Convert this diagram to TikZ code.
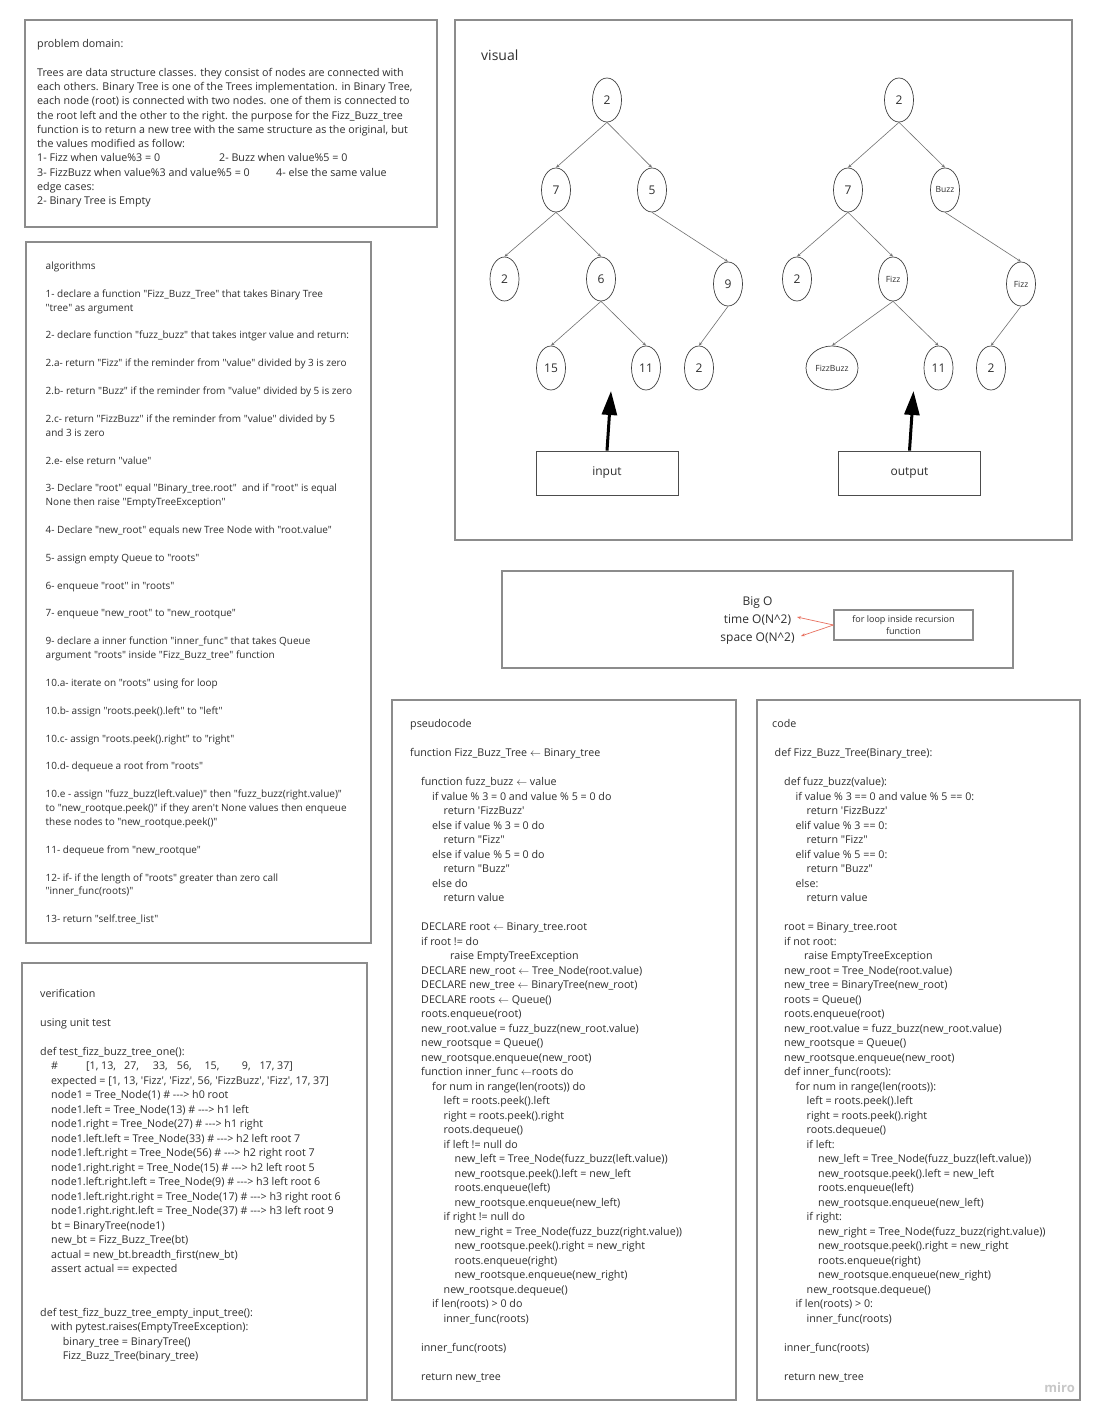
\documentclass[tikz,border=0pt]{standalone}
\usepackage{fontspec}
\setmainfont{Open Sans}[Ligatures=TeXOff]
\usetikzlibrary{arrows.meta,shapes.geometric}
\definecolor{frame}{HTML}{8C8C8C}
\definecolor{txt}{HTML}{2E2E2E}
\definecolor{edgec}{HTML}{707070}
\definecolor{redarrow}{HTML}{E8705F}
\definecolor{mirogray}{HTML}{C8C8C8}
\newcommand\IN[1]{\hspace*{#1pt}}
\newcommand\At[2]{\makebox[0pt][l]{\hspace*{#1pt}#2}}
\tikzset{
  panel/.style={draw=frame, line width=1.2pt},
  body/.style={anchor=north west, inner sep=0pt, align=left, text=txt},
  tnode/.style={ellipse, draw=black!75, line width=0.7pt, minimum width=29pt, minimum height=44pt, inner sep=0pt, text=txt, font=\fontsize{12}{14}\selectfont},
  tsmall/.style={tnode, font=\fontsize{8.5}{10}\selectfont},
  tedge/.style={draw=edgec, line width=0.6pt, -{Stealth[length=3.5pt,width=3pt]}},
  bigarrow/.style={line width=3pt, -{Triangle[length=24pt,width=15pt]}},
  iobox/.style={draw=black!70, line width=0.8pt, minimum width=142pt, minimum height=44pt, text=txt, font=\fontsize{12}{14}\selectfont},
  redarr/.style={draw=redarrow, line width=0.7pt, -{Stealth[length=4pt,width=3pt]}}
}
\begin{document}
\begin{tikzpicture}[x=1pt,y=-1pt]
\fill[white] (0,0) rectangle (1100,1419);
\useasboundingbox (0,0) rectangle (1100,1419);

% frames
\draw[panel] (25,20) rectangle (437,227);
\draw[panel] (26,242) rectangle (371,943);
\draw[panel] (22,963) rectangle (367,1400);
\draw[panel] (455,20) rectangle (1072,540);
\draw[panel] (502,571) rectangle (1013,668);
\draw[panel] (392,700) rectangle (736,1400);
\draw[panel] (757,700) rectangle (1080,1400);

% problem domain
\node[body, font=\fontsize{10.7}{14.3}\selectfont] (prob) at (37,37.3) {\strut problem domain:\\[14.3pt]
Trees are data structure classes. they consist of nodes are connected with\\
each others. Binary Tree is one of the Trees implementation. in Binary Tree,\\
each node (root) is connected with two nodes. one of them is connected to\\
the root left and the other to the right. the purpose for the Fizz\_Buzz\_tree\\
function is to return a new tree with the same structure as the original, but\\
the values modified as follow:\\
\makebox[182pt][l]{1- Fizz when value\%3 = 0}2- Buzz when value\%5 = 0\\
\makebox[239pt][l]{3- FizzBuzz when value\%3 and value\%5 = 0}4- else the same value\\
edge cases:\\
2- Binary Tree is Empty};

% algorithms
\node[body, font=\fontsize{10}{13.9}\selectfont] (algo) at (45.5,259.5) {\strut algorithms\\[13.9pt]
1- declare a function "Fizz\_Buzz\_Tree" that takes Binary Tree\\
"tree" as argument\\[13.9pt]
2- declare function "fuzz\_buzz" that takes intger value and return:\\[13.9pt]
2.a- return "Fizz" if the reminder from "value" divided by 3 is zero\\[13.9pt]
2.b- return "Buzz" if the reminder from "value" divided by 5 is zero\\[13.9pt]
2.c- return "FizzBuzz" if the reminder from "value" divided by 5\\
and 3 is zero\\[13.9pt]
2.e- else return "value"\\[13.9pt]
3- Declare "root" equal "Binary\_tree.root" \ and if "root" is equal\\
None then raise "EmptyTreeException"\\[13.9pt]
4- Declare "new\_root" equals new Tree Node with "root.value"\\[13.9pt]
5- assign empty Queue to "roots"\\[13.9pt]
6- enqueue "root" in "roots"\\[13.9pt]
7- enqueue "new\_root" to "new\_rootque"\\[13.9pt]
9- declare a inner function "inner\_func" that takes Queue\\
argument "roots" inside "Fizz\_Buzz\_tree" function\\[13.9pt]
10.a- iterate on "roots" using for loop\\[13.9pt]
10.b- assign "roots.peek().left" to "left"\\[13.9pt]
10.c- assign "roots.peek().right" to "right"\\[13.9pt]
10.d- dequeue a root from "roots"\\[13.9pt]
10.e - assign "fuzz\_buzz(left.value)" then "fuzz\_buzz(right.value)"\\
to "new\_rootque.peek()" if they aren't None values then enqueue\\
these nodes to "new\_rootque.peek()"\\[13.9pt]
11- dequeue from "new\_rootque"\\[13.9pt]
12- if- if the length of "roots" greater than zero call\\
"inner\_func(roots)"\\[13.9pt]
13- return "self.tree\_list"};

% verification
\node[body, font=\fontsize{10.7}{14.5}\selectfont] (verif) at (40,987) {\strut verification\\[14.5pt]
using unit test\\[14.5pt]
def test\_fizz\_buzz\_tree\_one():\\
\IN{11}\At{0}{\#}\At{35}{[1, 13,}\At{73}{27,}\At{101.7}{33,}\At{125.7}{56,}\At{153.3}{15,}\At{190.7}{9,}\At{208.3}{17, 37]}\\
\IN{11}expected = [1, 13, 'Fizz', 'Fizz', 56, 'FizzBuzz', 'Fizz', 17, 37]\\
\IN{11}node1 = Tree\_Node(1) \# ---> h0 root\\
\IN{11}node1.left = Tree\_Node(13) \# ---> h1 left\\
\IN{11}node1.right = Tree\_Node(27) \# ---> h1 right\\
\IN{11}node1.left.left = Tree\_Node(33) \# ---> h2 left root 7\\
\IN{11}node1.left.right = Tree\_Node(56) \# ---> h2 right root 7\\
\IN{11}node1.right.right = Tree\_Node(15) \# ---> h2 left root 5\\
\IN{11}node1.left.right.left = Tree\_Node(9) \# ---> h3 left root 6\\
\IN{11}node1.left.right.right = Tree\_Node(17) \# ---> h3 right root 6\\
\IN{11}node1.right.right.left = Tree\_Node(37) \# ---> h3 left root 9\\
\IN{11}bt = BinaryTree(node1)\\
\IN{11}new\_bt = Fizz\_Buzz\_Tree(bt)\\
\IN{11}actual = new\_bt.breadth\_first(new\_bt)\\
\IN{11}assert actual == expected\\[29pt]
def test\_fizz\_buzz\_tree\_empty\_input\_tree():\\
\IN{11}with pytest.raises(EmptyTreeException):\\
\IN{22.7}binary\_tree = BinaryTree()\\
\IN{22.7}Fizz\_Buzz\_Tree(binary\_tree)};

% visual
\node[anchor=west, inner sep=0pt, text=txt, font=\fontsize{14}{16}\selectfont] (vistitle) at (481,55) {visual};

\node[tnode] (a1) at (607,100) {2};
\node[tnode] (a2) at (556,190) {7};
\node[tnode] (a3) at (652,190) {5};
\node[tnode] (a4) at (504.5,279) {2};
\node[tnode] (a5) at (601,279) {6};
\node[tnode] (a6) at (728,284) {9};
\node[tnode] (a7) at (551,368) {15};
\node[tnode] (a8) at (646,368) {11};
\node[tnode] (a9) at (699,368) {2};
\foreach \p/\c in {a1/a2,a1/a3,a2/a4,a2/a5,a3/a6,a5/a7,a5/a8,a6/a9}
  \draw[tedge] (\p.south) -- (\c.north);

\node[tnode] (b1) at (899,100) {2};
\node[tnode] (b2) at (848,190) {7};
\node[tsmall] (b3) at (945,190) {Buzz};
\node[tnode] (b4) at (797,279) {2};
\node[tsmall] (b5) at (893,279) {Fizz};
\node[tsmall] (b6) at (1021,284) {Fizz};
\node[tsmall, minimum width=52pt] (b7) at (832,368) {FizzBuzz};
\node[tnode] (b8) at (938.5,368) {11};
\node[tnode] (b9) at (991,368) {2};
\foreach \p/\c in {b1/b2,b1/b3,b2/b4,b2/b5,b3/b6,b5/b7,b5/b8,b6/b9}
  \draw[tedge] (\p.south) -- (\c.north);

\node[iobox] (input) at (607,473) {input};
\node[iobox] (output) at (909.5,473) {output};
\coordinate (inTip) at (611,391);
\coordinate (outTip) at (913.5,391);
\draw[bigarrow] (input.north) -- (inTip);
\draw[bigarrow] (output.north) -- (outTip);

% Big O
\node[align=center, inner sep=0pt, text=txt, font=\fontsize{12}{18}\selectfont] (bigo) at (757.5,621) {Big O\\time O(N\textasciicircum 2)\\space O(N\textasciicircum 2)};
\node[draw=frame, line width=1.1pt, minimum width=139pt, minimum height=30pt, inner sep=0pt, align=center, text=txt, font=\fontsize{9}{12}\selectfont] (loopbox) at (903.5,625) {for loop inside recursion\\function};
\coordinate (timeTip) at (797,617);
\coordinate (spaceTip) at (801,636);
\draw[redarr] (loopbox.west) -- (timeTip);
\draw[redarr] (loopbox.west) -- (spaceTip);

% pseudocode
\node[body, font=\fontsize{10.7}{14.5}\selectfont] (pseudo) at (410,717.5) {\strut pseudocode\\[14.5pt]
function Fizz\_Buzz\_Tree $\leftarrow$ Binary\_tree\\[14.5pt]
\IN{11}function fuzz\_buzz $\leftarrow$ value\\
\IN{22}if value \% 3 = 0 and value \% 5 = 0 do\\
\IN{33.5}return 'FizzBuzz'\\
\IN{22}else if value \% 3 = 0 do\\
\IN{33.5}return "Fizz"\\
\IN{22}else if value \% 5 = 0 do\\
\IN{33.5}return "Buzz"\\
\IN{22}else do\\
\IN{33.5}return value\\[14.5pt]
\IN{11}DECLARE root $\leftarrow$ Binary\_tree.root\\
\IN{11}if root != do\\
\IN{40}raise EmptyTreeException\\
\IN{11}DECLARE new\_root $\leftarrow$ Tree\_Node(root.value)\\
\IN{11}DECLARE new\_tree $\leftarrow$ BinaryTree(new\_root)\\
\IN{11}DECLARE roots $\leftarrow$ Queue()\\
\IN{11}roots.enqueue(root)\\
\IN{11}new\_root.value = fuzz\_buzz(new\_root.value)\\
\IN{11}new\_rootsque = Queue()\\
\IN{11}new\_rootsque.enqueue(new\_root)\\
\IN{11}function inner\_func $\leftarrow$roots do\\
\IN{22}for num in range(len(roots)) do\\
\IN{33.5}left = roots.peek().left\\
\IN{33.5}right = roots.peek().right\\
\IN{33.5}roots.dequeue()\\
\IN{33.5}if left != null do\\
\IN{44.5}new\_left = Tree\_Node(fuzz\_buzz(left.value))\\
\IN{44.5}new\_rootsque.peek().left = new\_left\\
\IN{44.5}roots.enqueue(left)\\
\IN{44.5}new\_rootsque.enqueue(new\_left)\\
\IN{33.5}if right != null do\\
\IN{44.5}new\_right = Tree\_Node(fuzz\_buzz(right.value))\\
\IN{44.5}new\_rootsque.peek().right = new\_right\\
\IN{44.5}roots.enqueue(right)\\
\IN{44.5}new\_rootsque.enqueue(new\_right)\\
\IN{33.5}new\_rootsque.dequeue()\\
\IN{22}if len(roots) > 0 do\\
\IN{33.5}inner\_func(roots)\\[14.5pt]
\IN{11}inner\_func(roots)\\[14.5pt]
\IN{11}return new\_tree};

% code
\node[body, font=\fontsize{10.7}{14.5}\selectfont] (code) at (772,717.5) {\strut code\\[14.5pt]
\IN{2.5}def Fizz\_Buzz\_Tree(Binary\_tree):\\[14.5pt]
\IN{12}def fuzz\_buzz(value):\\
\IN{23.5}if value \% 3 == 0 and value \% 5 == 0:\\
\IN{34.5}return 'FizzBuzz'\\
\IN{23.5}elif value \% 3 == 0:\\
\IN{34.5}return "Fizz"\\
\IN{23.5}elif value \% 5 == 0:\\
\IN{34.5}return "Buzz"\\
\IN{23.5}else:\\
\IN{34.5}return value\\[14.5pt]
\IN{12}root = Binary\_tree.root\\
\IN{12}if not root:\\
\IN{32}raise EmptyTreeException\\
\IN{12}new\_root = Tree\_Node(root.value)\\
\IN{12}new\_tree = BinaryTree(new\_root)\\
\IN{12}roots = Queue()\\
\IN{12}roots.enqueue(root)\\
\IN{12}new\_root.value = fuzz\_buzz(new\_root.value)\\
\IN{12}new\_rootsque = Queue()\\
\IN{12}new\_rootsque.enqueue(new\_root)\\
\IN{12}def inner\_func(roots):\\
\IN{23.5}for num in range(len(roots)):\\
\IN{34.5}left = roots.peek().left\\
\IN{34.5}right = roots.peek().right\\
\IN{34.5}roots.dequeue()\\
\IN{34.5}if left:\\
\IN{46}new\_left = Tree\_Node(fuzz\_buzz(left.value))\\
\IN{46}new\_rootsque.peek().left = new\_left\\
\IN{46}roots.enqueue(left)\\
\IN{46}new\_rootsque.enqueue(new\_left)\\
\IN{34.5}if right:\\
\IN{46}new\_right = Tree\_Node(fuzz\_buzz(right.value))\\
\IN{46}new\_rootsque.peek().right = new\_right\\
\IN{46}roots.enqueue(right)\\
\IN{46}new\_rootsque.enqueue(new\_right)\\
\IN{34.5}new\_rootsque.dequeue()\\
\IN{23.5}if len(roots) > 0:\\
\IN{34.5}inner\_func(roots)\\[14.5pt]
\IN{12}inner\_func(roots)\\[14.5pt]
\IN{12}return new\_tree};

\node[anchor=east, inner sep=0pt, text=mirogray, font=\bfseries\fontsize{13}{15}\selectfont] (miro) at (1075,1388) {miro};
\end{tikzpicture}
\end{document}
